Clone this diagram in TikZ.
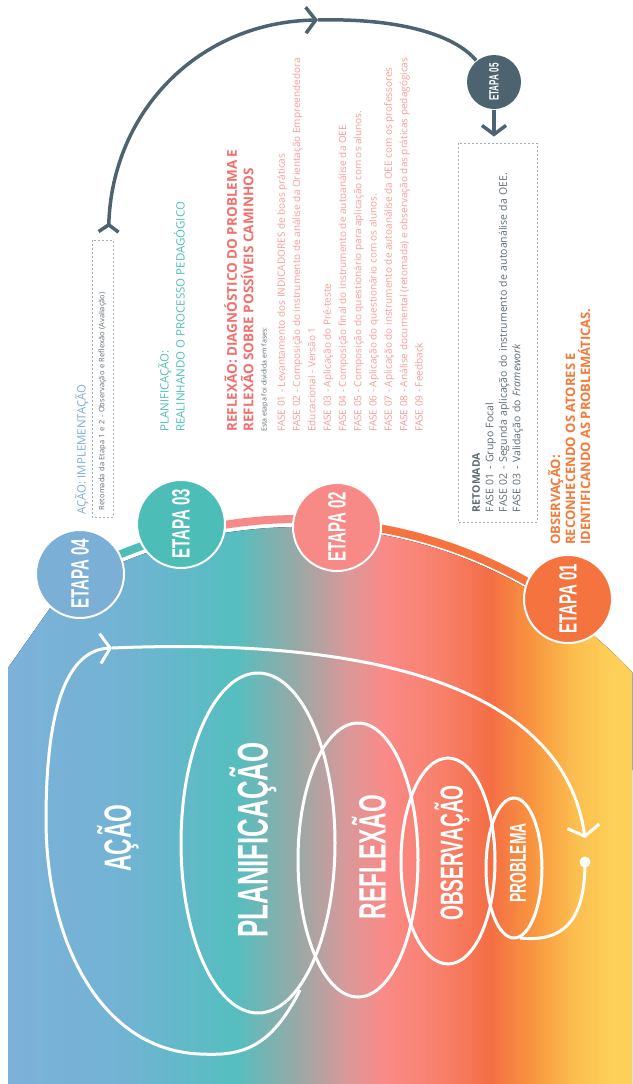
\documentclass[tikz,border=0pt]{standalone}
\usepackage{fontspec}
\setmainfont{Open Sans}
\newfontfamily\condfont{Liberation Sans}[FakeStretch=0.6]
\usetikzlibrary{arrows.meta}

\definecolor{cblue}{HTML}{7BAFD6}
\definecolor{cteal}{HTML}{4DBDB8}
\definecolor{cpink}{HTML}{F78A87}
\definecolor{cred}{HTML}{F26F6B}
\definecolor{clight}{HTML}{F59C98}
\definecolor{corange}{HTML}{F5733F}
\definecolor{cslate}{HTML}{4D6470}
\definecolor{cgrey}{HTML}{5F6B73}
\definecolor{cdash}{HTML}{A3ABB0}
\definecolor{cobs}{HTML}{F47A3A}
% gradient stops
\definecolor{g1}{HTML}{7DB1D9}
\definecolor{g2}{HTML}{72B3D4}
\definecolor{g3}{HTML}{55BEBF}
\definecolor{g4}{HTML}{9CA8A5}
\definecolor{g5}{HTML}{D8999A}
\definecolor{g6}{HTML}{FA8A87}
\definecolor{g7}{HTML}{F8806C}
\definecolor{g8}{HTML}{F46E45}
\definecolor{g9}{HTML}{F8933F}
\definecolor{g10}{HTML}{FBBF4F}
\definecolor{g11}{HTML}{FDD159}

\pgfdeclarehorizontalshading{rainbow}{100bp}{color(0bp)=(g1); color(25bp)=(g1); color(34bp)=(g2); color(43.2bp)=(g3); color(48.4bp)=(g4); color(52bp)=(g5); color(55.2bp)=(g6); color(59.6bp)=(g7); color(63.6bp)=(g8); color(66.8bp)=(g9); color(70.4bp)=(g10); color(73.6bp)=(g11); color(100bp)=(g11)}

\tikzset{
  etapa/.style={circle, draw=white, line width=2pt, minimum size=88pt, inner sep=0pt, text=white, font=\condfont\bfseries\fontsize{25}{25}\selectfont},
  coil/.style={draw=white, line width=3pt},
  coiltext/.style={text=white, rotate=90, inner sep=0pt},
  blocktext/.style={rotate=90, anchor=north west, align=left, inner sep=0pt},
  band/.style={line width=8pt},
  slateline/.style={cslate, line width=3.5pt},
  dotbox/.style={draw=cdash, line width=0.8pt, dash pattern=on 2pt off 2pt, rotate=90},
}

\begin{document}
\begin{tikzpicture}[x=1pt, y=-1pt]
    \useasboundingbox (0,0) rectangle (632,1084);

    % coloured arch
    \fill[shading=rainbow] (8,1084) -- (8,668) -- (60,594) arc[start angle=-121.4, end angle=-43, radius=457] -- (632,1084) -- cycle;
    \coordinate (arcc) at (298,984);
    \draw[band, cteal] (arcc) ++(-118.5:465) arc[start angle=-118.5, end angle=-105.2, radius=465];
    \draw[band, cpink] (arcc) ++(-105.2:465) arc[start angle=-105.2, end angle=-85, radius=465];
    \draw[band, corange] (arcc) ++(-85:463) arc[start angle=-85, end angle=-53.8, radius=463];

    % stage circles
    \node[etapa, fill=cblue] (e4) at (80,574) {\rotatebox{90}{ETAPA 04}};
    \node[etapa, fill=cteal] (e3) at (181,524) {\rotatebox{90}{ETAPA 03}};
    \node[etapa, fill=cpink] (e2) at (337,527) {\rotatebox{90}{ETAPA 02}};
    \node[etapa, fill=corange] (e1) at (568,599) {\rotatebox{90}{ETAPA 01}};
    \node[etapa, fill=cslate, draw=none, minimum size=54pt, font=\condfont\bfseries\fontsize{13.5}{13.5}\selectfont] (e5) at (494,82) {\rotatebox{90}{ETAPA 05}};

    % spiral of the cycle
    \draw[coil] (258,843) ellipse [x radius=77, y radius=170];
    \draw[coil] (358,860) ellipse [x radius=60, y radius=137];
    \draw[coil] (448,861) ellipse [x radius=47, y radius=103];
    \draw[coil] (514,868) ellipse [x radius=28, y radius=70];
    \draw[coil, -{Straight Barb[length=10pt, width=30pt]}] (300,990) .. controls (270,1050) and (240,1056) .. (200,1054)
        .. controls (100,1050) and (46,940) .. (46,820) .. controls (46,700) and (70,650) .. (112,648);
    \draw[coil, -{Straight Barb[length=10pt, width=32pt]}] (112,648) .. controls (300,640) and (560,660) .. (585,838);
    \fill[white] (585,862) circle (5.5);
    \draw[coil] (585,862) .. controls (585,925) and (560,942) .. (520,938);

    \node[coiltext, font=\condfont\bfseries\fontsize{38}{38}\selectfont] (acao) at (118,838) {AÇÃO};
    \node[coiltext, font=\condfont\bfseries\fontsize{43}{43}\selectfont] (plan) at (253,840) {PLANIFICAÇÃO};
    \node[coiltext, font=\condfont\bfseries\fontsize{38}{38}\selectfont] (refl) at (369,857) {REFLEXÃO};
    \node[coiltext, font=\condfont\bfseries\fontsize{32}{32}\selectfont] (obs) at (452,853) {OBSERVAÇÃO};
    \node[coiltext, font=\condfont\bfseries\fontsize{23}{23}\selectfont] (prob) at (518,863) {PROBLEMA};

    % stage texts
    \node[blocktext, text=cblue, font=\fontsize{11.5}{13}\selectfont] (acaohead) at (75,515) {AÇÃO: IMPLEMENTAÇÃO};
    \node[dotbox, minimum width=277pt, minimum height=21pt, inner xsep=7pt, inner ysep=0pt, text width=263pt, align=left,
        text=cgrey, font=\fontsize{7.5}{8}\selectfont] (acaobox) at (102.5,378.5)
        {Retomada da Etapa 1 e 2 - Observação e Reflexão (Avaliação)};
    \node[blocktext, text=cteal, font=\fontsize{11.5}{16}\selectfont] (planhead) at (158,432)
        {PLANIFICAÇÃO:\\ REALINHANDO O PROCESSO PEDAGÓGICO};
    \node[blocktext, text=cred, font=\bfseries\fontsize{13.5}{16.5}\selectfont] (reflhead) at (224,432)
        {REFLEXÃO: DIAGNÓSTICO DO PROBLEMA E\\ REFLEXÃO SOBRE POSSÍVEIS CAMINHOS};
    \node[blocktext, text=cgrey, font=\fontsize{7}{8}\selectfont] (reflnote) at (261,432) {Esta etapa foi dividida em fases:};
    \node[blocktext, text=clight, font=\fontsize{10}{15.3}\selectfont] (fases) at (277,432)
        {FASE 01 - Levantamento dos INDICADORES de boas práticas\\
         FASE 02 - Composição do instrumento de análise da Orientação Empreendedora\\
         Educacional - Versão 1\\
         FASE 03 - Aplicação do Pré-teste\\
         FASE 04 - Composição final do instrumento de autoanálise da OEE\\
         FASE 05 - Composição do questionário para aplicação com os alunos.\\
         FASE 06 - Aplicação do questionário com os alunos.\\
         FASE 07 - Aplicação do instrumento de autoanálise da OEE com os professores\\
         FASE 08 - Análise documental (retomada) e observação das práticas pedagógicas\\
         FASE 09 - Feedback};
    \node[dotbox, minimum width=379pt, minimum height=79pt, inner xsep=10pt, text width=359pt, align=left,
        text=cgrey, font=\fontsize{10.5}{13.5}\selectfont] (retobox) at (497.5,332.5)
        {{\bfseries RETOMADA}\\ FASE 01 - Grupo Focal\\ FASE 02 - Segunda aplicação do instrumento de autoanálise da OEE.\\
         FASE 03 - Validação do \textit{Framework}};
    \node[blocktext, text=cobs, font=\bfseries\fontsize{13}{15}\selectfont] (obshead) at (548,545)
        {OBSERVAÇÃO:\\ RECONHECENDO OS ATORES E\\ IDENTIFICANDO AS PROBLEMÁTICAS.};

    % arrow back to the start
    \coordinate (apex) at (318,20);
    \draw[slateline, {Straight Barb[reversed, length=7pt, width=20pt]}-{Straight Barb[length=10pt, width=26pt]}]
        ([xshift=6pt, yshift=6pt]acaobox.east) .. controls (112,110) and (200,22) .. (apex);
    \draw[slateline] (apex) .. controls (400,18) and (455,35) .. (e5);
    \draw[slateline, -{Straight Barb[length=9pt, width=24pt]}, shorten >=6pt] (e5) -- (e5 |- retobox.east);
\end{tikzpicture}
\end{document}
